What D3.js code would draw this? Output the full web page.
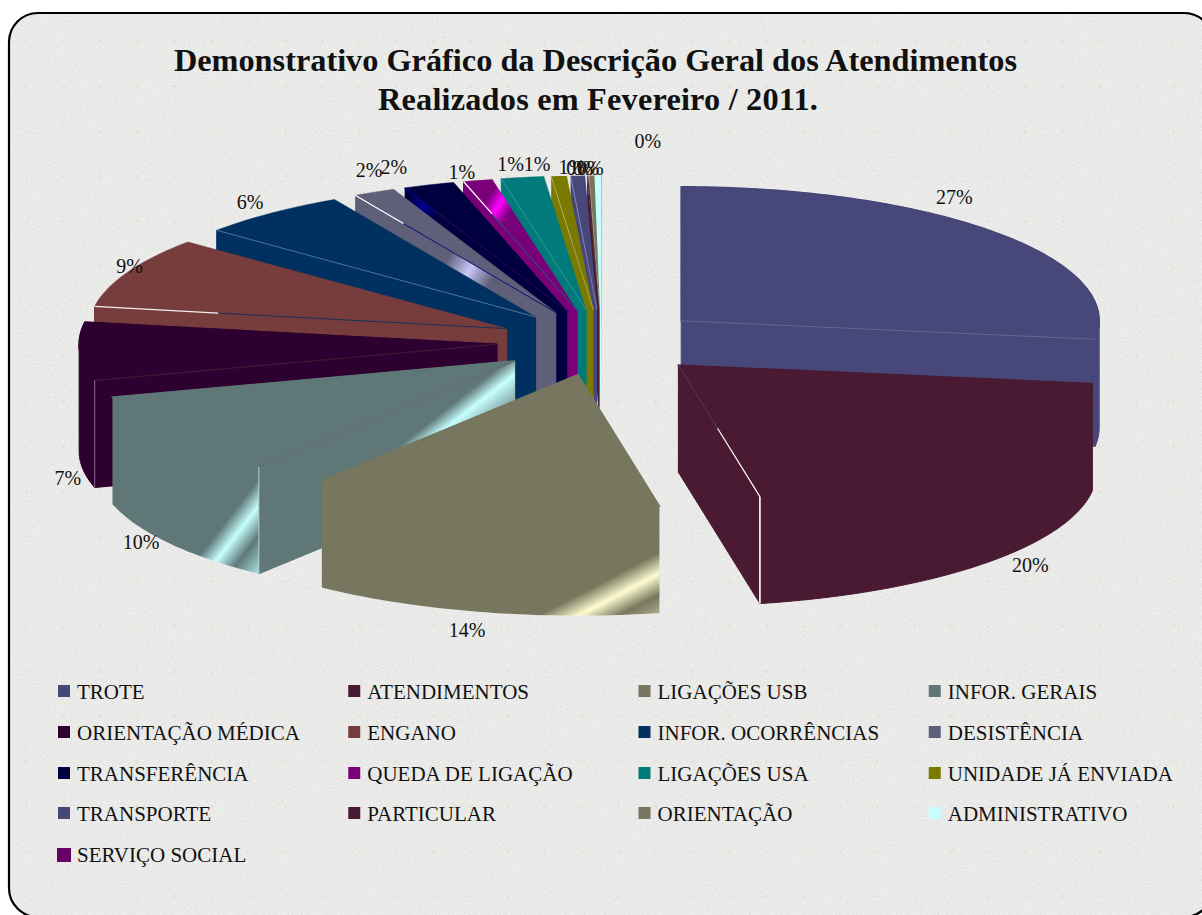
<!DOCTYPE html>
<meta charset="utf-8">
<head>
<script src="https://cdn.jsdelivr.net/npm/d3@7"></script>
<style>
html, body { margin: 0; background: #fff; }
svg { display: block; }
text { font-family: "Liberation Serif", "Times New Roman", serif; fill: #111; }
</style>
</head>
<body>
<svg id="chart"></svg>
<script>
var titleLines = ["Demonstrativo Gráfico da Descrição Geral dos Atendimentos", "Realizados em Fevereiro / 2011."];

var categories = ["TROTE", "ATENDIMENTOS", "LIGAÇÕES USB", "INFOR. GERAIS",
    "ORIENTAÇÃO MÉDICA", "ENGANO", "INFOR. OCORRÊNCIAS", "DESISTÊNCIA",
    "TRANSFERÊNCIA", "QUEDA DE LIGAÇÃO", "LIGAÇÕES USA", "UNIDADE JÁ ENVIADA",
    "TRANSPORTE", "PARTICULAR", "ORIENTAÇÃO", "ADMINISTRATIVO", "SERVIÇO SOCIAL"];

// shares in %
var values = [27.2, 19.68, 13.62, 10.15, 7.0, 8.55, 5.82, 1.63, 1.98, 1.13, 1.64, 0.6, 0.55, 0.05, 0.2, 0.2, 0.01];
var percentLabels = ["27%", "20%", "14%", "10%", "7%", "9%", "6%", "2%", "2%", "1%", "1%", "1%", "1%", "0%", "0%", "0%", "0%"];

var colors = ["#47477a", "#4a1a33", "#77775f", "#5f7777", "#2e0030", "#773d3d", "#00305f", "#5f5f7a",
    "#00003e", "#7a007a", "#007a7a", "#7a7a00", "#47477a", "#4a1a33", "#77775f", "#c6ffff", "#660066"];

var width = 1202, height = 915;
var cx = 602, cy = 342.5;
var rx = 418, ry = 134, depth = 107;
var explodeX = 105, explodeY = 33;

var svg = d3.select("#chart").attr("width", width).attr("height", height);
var defs = svg.append("defs");

// grey stone paper of the chart area
var noise = defs.append("filter").attr("id", "grain").attr("x", 0).attr("y", 0).attr("width", 1).attr("height", 1);
noise.append("feTurbulence").attr("type", "fractalNoise").attr("baseFrequency", 0.75).attr("numOctaves", 2).attr("seed", 4).attr("result", "n");
noise.append("feColorMatrix").attr("in", "n").attr("type", "matrix")
    .attr("values", "0 0 0 0 0.55  0 0 0 0 0.55  0 0 0 0 0.55  0.9 0 0 0 -0.34").attr("result", "g");
noise.append("feMerge").selectAll("feMergeNode").data(["SourceGraphic", "g"]).enter()
    .append("feMergeNode").attr("in", function(d) { return d; });

var tile = defs.append("pattern").attr("id", "specks").attr("patternUnits", "userSpaceOnUse")
    .attr("width", 37).attr("height", 45).attr("x", 8).attr("y", 20);
tile.append("rect").attr("x", 17).attr("y", 20).attr("width", 3).attr("height", 3).attr("fill", "#e8dfd6").attr("opacity", 0.7);

defs.append("clipPath").attr("id", "frame").append("rect")
    .attr("x", 9).attr("y", 13).attr("width", 1204).attr("height", 904).attr("rx", 29);

svg.append("rect").attr("x", 9).attr("y", 13).attr("width", 1204).attr("height", 904).attr("rx", 29)
    .attr("fill", "#eeeeec").attr("filter", "url(#grain)").attr("clip-path", "url(#frame)");
svg.append("rect").attr("x", 9).attr("y", 13).attr("width", 1204).attr("height", 904).attr("rx", 29)
    .attr("fill", "url(#specks)");
svg.append("rect").attr("x", 9).attr("y", 13).attr("width", 1204).attr("height", 904).attr("rx", 29)
    .attr("fill", "none").attr("stroke", "#000").attr("stroke-width", 2.2);

svg.selectAll("text.title").data(titleLines).enter().append("text")
    .attr("class", "title")
    .attr("x", function(d, i) { return i ? 598 : 595.5; }).attr("y", function(d, i) { return 71 + i * 39; })
    .attr("text-anchor", "middle")
    .attr("font-size", 32.3).attr("font-weight", "bold")
    .attr("letter-spacing", function(d, i) { return i ? 0.2 : 0; })
    .text(function(d) { return d; });

var pie = d3.pie().sort(null).value(function(d) { return d; });
var slices = pie(values).map(function(s, i) {
    s.i = i;
    s.mid = (s.startAngle + s.endAngle) / 2;
    s.ox = cx + explodeX * Math.sin(s.mid);
    s.oy = cy - explodeY * Math.cos(s.mid);
    return s;
});

function rim(s, a, z) {
    return [s.ox + rx * Math.sin(a), s.oy - ry * Math.cos(a) + (z || 0)];
}
function apex(s, z) {
    return [s.ox, s.oy + (z || 0)];
}
function arcPoints(s, a0, a1, z) {
    var n = Math.max(2, Math.ceil((a1 - a0) / 0.02));
    return d3.range(n + 1).map(function(k) { return rim(s, a0 + (a1 - a0) * k / n, z); });
}
var line = d3.line();

// light bands on some faces: [slice, face, x1, y1, x2, y2, stops, left limit of the band]
var streaks = [
    [2, "outer", 660, 552, 684, 598, [[0, "#77775f"], [0.36, "#fffdcf"], [0.72, "#77775f"], [1, "#a4a488"]]],
    [3, "outer", 258, 480, 303, 515, [[0, "#5f7777"], [0.29, "#c6ffff"], [0.61, "#5f7777"], [1, "#a8dcdc"]]],
    [3, "start", 483, 380, 505, 408, [[0, "#5f7777"], [0.42, "#c6ffff"], [1, "#87a8a8"]], 395],
    [7, "start", 448, 258, 490, 283, [[0, "#5f5f7a"], [0.5, "#c8c8f6"], [1, "#5f5f7a"]]],
    [8, "start", 410, 197, 436, 215, [[0, "#00003e"], [0.5, "#000090"], [1, "#00003e"]]],
    [9, "top", 488, 198, 510, 212, [[0, "#7a007a"], [0.5, "#ff00ff"], [1, "#7a007a"]]]
];

function streakOf(s, face) {
    return streaks.filter(function(t) { return t[0] === s.i && t[1] === face; })[0];
}

function streakFill(s, face, hit) {
    var id = "streak" + s.i + face;
    var g = defs.append("linearGradient").attr("id", id).attr("gradientUnits", "userSpaceOnUse")
        .attr("x1", hit[2]).attr("y1", hit[3]).attr("x2", hit[4]).attr("y2", hit[5]);
    g.selectAll("stop").data(hit[6]).enter().append("stop")
        .attr("offset", function(d) { return d[0]; })
        .attr("stop-color", function(d) { return d[1]; });
    return "url(#" + id + ")";
}

// thin edge highlights: [slice, which radial, inner colour, outer colour, split from the apex]
var edges = [
    [0, "end", "#6f6f9c", "#6f6f9c", 0],
    [1, "end", "#47477a", "#ffffff", 0.48],
    [3, "start", "#6a6a72", "#6a6a72", 0],
    [4, "start", "#4a2436", "#4a2436", 0],
    [5, "start", "#00305f", "#f4eeee", 0.7],
    [6, "start", "#5f84a8", "#5f84a8", 0],
    [7, "start", "#000080", "#ffffff", 0.76],
    [8, "start", "#2a0a50", "#000090", 0.8],
    [9, "start", "#007a7a", "#ffffff", 0.75],
    [10, "start", "#3aa0a0", "#3aa0a0", 0],
    [11, "start", "#b8b860", "#b8b860", 0],
    [12, "start", "#8a8ab8", "#8a8ab8", 0]
];
// vertical rim edges: [slice, radial, colour, stroke width]
var verticals = [
    [1, "end", "#ffffff", 1.6],
    [3, "start", "#b4d4d4", 1],
    [4, "start", "#8a6a90", 1]
];

function drawSlice(s) {
    var g = svg.append("g");
    var color = colors[s.i];
    var thick = values[s.i] > 1;
    var topPoints = [apex(s)].concat(arcPoints(s, s.startAngle, s.endAngle));
    function face(name, pts) {
        var hit = streakOf(s, name);
        var limited = hit && hit[7] !== undefined;
        g.append("path").attr("d", line(pts) + "Z")
            .attr("fill", hit && !limited ? streakFill(s, name, hit) : color)
            .attr("stroke", thick && (!hit || limited) ? color : "none")
            .attr("stroke-width", name === "top" ? 0.5 : 1);
        if (limited) {
            // the gradient runs on for ever, so keep its band to one end of the face
            var clipId = "limit" + s.i + name;
            defs.append("clipPath").attr("id", clipId).append("rect")
                .attr("x", hit[7]).attr("y", 0).attr("width", width).attr("height", height);
            g.append("path").attr("d", line(pts) + "Z")
                .attr("fill", streakFill(s, name, hit))
                .attr("clip-path", "url(#" + clipId + ")");
        }
    }
    // only walls turned to the viewer
    if (Math.sin(s.startAngle) < 0) {
        face("start", [apex(s), rim(s, s.startAngle), rim(s, s.startAngle, depth), apex(s, depth)]);
    }
    if (Math.sin(s.endAngle) > 0) {
        face("end", [apex(s), rim(s, s.endAngle), rim(s, s.endAngle, depth), apex(s, depth)]);
    }
    var a0 = Math.max(s.startAngle, Math.PI / 2);
    var a1 = Math.min(s.endAngle, Math.PI * 1.5);
    if (a1 > a0) {
        // flat copy of the top under the wall so that no seam shows between them
        g.append("path").attr("d", line(topPoints) + "Z").attr("fill", color)
            .attr("stroke", color).attr("stroke-width", 1.5);
        face("outer", arcPoints(s, a0, a1).concat(arcPoints(s, a0, a1, depth).reverse()));
    }
    face("top", topPoints);

    edges.filter(function(e) { return e[0] === s.i; }).forEach(function(e) {
        var end = rim(s, e[1] === "start" ? s.startAngle : s.endAngle);
        var mid = [s.ox + (end[0] - s.ox) * e[4], s.oy + (end[1] - s.oy) * e[4]];
        if (e[4] > 0) {
            g.append("path").attr("d", line([apex(s), mid])).attr("stroke", e[2]).attr("stroke-width", 0.8).attr("fill", "none");
        }
        g.append("path").attr("d", line([mid, end])).attr("stroke", e[3]).attr("stroke-width", e[4] > 0 ? 1.2 : 0.8).attr("fill", "none");
    });
    verticals.filter(function(e) { return e[0] === s.i; }).forEach(function(e) {
        var a = e[1] === "start" ? s.startAngle : s.endAngle;
        g.append("path").attr("d", line([rim(s, a), rim(s, a, depth)]))
            .attr("stroke", e[2]).attr("stroke-width", e[3]).attr("fill", "none");
    });
}

// far slices first
slices.slice().sort(function(a, b) { return Math.cos(b.mid) - Math.cos(a.mid); }).forEach(drawSlice);

// label shift from the rim point at the middle of each slice
var labelShift = [[-42, -35], [48, 109], [-15, 126], [-27, 107], [-12, 128], [2, -5], [-21, -10], [-5, -21],
    [-35, -17], [-16, -7], [-12, -12], [-22, -11], [-6, -8], [-8, -7], [-6, -7], [-8, -7], [46, -34]];

svg.selectAll("text.pct").data(slices).enter().append("text")
    .attr("class", "pct")
    .attr("text-anchor", "middle")
    .attr("font-size", 20)
    .attr("x", function(s) { return cx + (explodeX + rx) * Math.sin(s.mid) + labelShift[s.i][0]; })
    .attr("y", function(s) { return cy - (explodeY + ry) * Math.cos(s.mid) + labelShift[s.i][1] + 6; })
    .text(function(s) { return percentLabels[s.i]; });

var legendX = d3.scaleBand().domain(d3.range(4)).range([58, 1219]);
var legendRows = [685, 726, 767, 807, 848];

var item = svg.selectAll("g.legend").data(categories).enter().append("g")
    .attr("class", "legend")
    .attr("transform", function(d, i) { return "translate(" + legendX(i % 4) + "," + legendRows[Math.floor(i / 4)] + ")"; });
item.append("rect").attr("x", function(d, i) { return i === 16 ? -1 : 0; })
    .attr("width", function(d, i) { return i === 16 ? 14 : 12; })
    .attr("height", function(d, i) { return i === 16 ? 14 : 12; })
    .attr("fill", function(d, i) { return colors[i]; });
item.append("text").attr("x", 19).attr("y", 14).attr("font-size", 21)
    .text(function(d) { return d; });
</script>
</body>
